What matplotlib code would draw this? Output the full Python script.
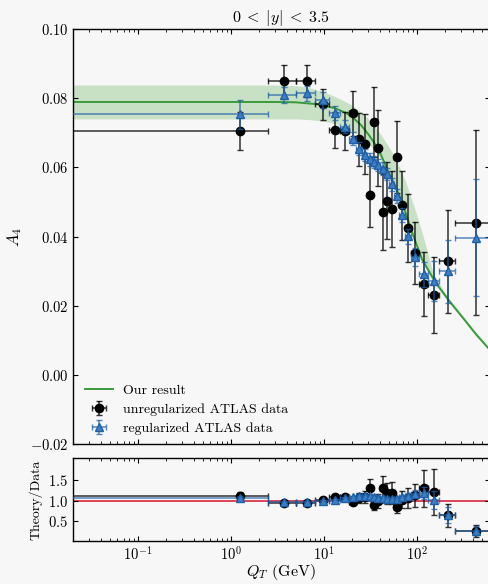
import numpy as np
import matplotlib
matplotlib.use("Agg")
import matplotlib.pyplot as plt
from matplotlib.ticker import FuncFormatter

plt.rcParams['font.family'] = 'serif'
plt.rcParams['font.serif'] = ['cmr10']
plt.rcParams['mathtext.fontset'] = 'cm'
plt.rcParams['axes.formatter.use_mathtext'] = True

# ---------------- data ----------------
bin_edges = [0.0, 2.5, 5.0, 8.0, 11.4, 14.9, 18.5, 22.0, 25.5, 29.0, 32.6, 36.4,
             40.4, 44.9, 50.2, 56.4, 63.9, 73.4, 85.4, 105.0, 132.0, 173.0, 253.0, 600.0]

a4_unreg = [0.0705, 0.0849, 0.0849, 0.0782, 0.0708, 0.0705, 0.0756, 0.0681, 0.0668,
            0.0521, 0.0731, 0.0655, 0.0472, 0.0504, 0.0479, 0.0630, 0.0490, 0.0424,
            0.0352, 0.0262, 0.0232, 0.0328, 0.0440]
a4_unreg_err = [0.0055, 0.0047, 0.0046, 0.0044, 0.0053, 0.0055, 0.0064, 0.0077, 0.0087,
                0.0094, 0.0102, 0.0110, 0.0110, 0.0110, 0.0110, 0.0104, 0.0100, 0.0098,
                0.0090, 0.0093, 0.0110, 0.0148, 0.0268]

a4_reg = [0.0753, 0.0809, 0.0814, 0.0795, 0.0758, 0.0717, 0.0683, 0.0654, 0.0636,
          0.0623, 0.0615, 0.0606, 0.0596, 0.0580, 0.0551, 0.0517, 0.0461, 0.0401,
          0.0341, 0.0291, 0.0271, 0.0299, 0.0397]
a4_reg_err = [0.0042, 0.0024, 0.0022, 0.0022, 0.0020, 0.0019, 0.0018, 0.0018, 0.0018,
              0.0018, 0.0018, 0.0018, 0.0018, 0.0018, 0.0019, 0.0019, 0.0020, 0.0022,
              0.0025, 0.0036, 0.0058, 0.0090, 0.0168]

ratio_unreg = [1.12, 0.94, 0.94, 1.01, 1.08, 1.08, 0.96, 1.07, 1.09, 1.30, 0.90, 0.99,
               1.30, 1.18, 1.18, 0.84, 1.02, 1.06, 1.13, 1.30, 1.20, 0.63, 0.24]
ratio_unreg_err = [0.087, 0.052, 0.051, 0.057, 0.081, 0.084, 0.081, 0.12, 0.14, 0.235,
                   0.126, 0.166, 0.30, 0.26, 0.27, 0.14, 0.21, 0.245, 0.29, 0.46, 0.57,
                   0.28, 0.15]
ratio_reg = [1.05, 0.97, 0.97, 0.99, 1.02, 1.07, 1.09, 1.11, 1.11, 1.11, 1.09, 1.07,
             1.06, 1.03, 1.03, 1.04, 1.08, 1.12, 1.17, 1.18, 1.02, 0.65, 0.25]
ratio_reg_err = [0.058, 0.03, 0.027, 0.028, 0.027, 0.028, 0.029, 0.031, 0.031, 0.032,
                 0.032, 0.032, 0.032, 0.032, 0.036, 0.038, 0.047, 0.061, 0.086, 0.15,
                 0.22, 0.20, 0.11]

qt_curve = [0.02, 1.0, 3.0, 5.0, 8.0, 10.0, 13.0, 17.0, 20.0, 25.0, 30.0, 35.0, 40.0,
            50.0, 60.0, 70.0, 88.0, 113.0, 158.0, 221.0, 308.0, 430.0, 620.0]
a4_curve = [0.0789, 0.0789, 0.0789, 0.0788, 0.0783, 0.0779, 0.0771, 0.0758, 0.0746,
            0.0722, 0.0695, 0.0669, 0.0642, 0.0582, 0.0538, 0.0494, 0.0413, 0.0334,
            0.0267, 0.0214, 0.0166, 0.0117, 0.0069]

qt_band = [0.02, 1.0, 3.0, 5.0, 7.0, 10.0, 13.0, 17.0, 20.0, 25.0, 30.0, 40.0, 50.0,
           60.0, 75.0, 95.0, 115.0, 150.0, 220.0, 620.0]
band_hi = [0.0838, 0.0838, 0.0838, 0.0836, 0.0830, 0.0818, 0.0805, 0.0790, 0.0779,
           0.0760, 0.0740, 0.0698, 0.0658, 0.0620, 0.0560, 0.0478, 0.0405, 0.0290,
           0.0220, 0.0071]
band_lo = [0.0740, 0.0740, 0.0740, 0.0740, 0.0738, 0.0733, 0.0727, 0.0715, 0.0705,
           0.0688, 0.0670, 0.0628, 0.0572, 0.0528, 0.0458, 0.0385, 0.0322, 0.0268,
           0.0208, 0.0067]

# ---------------- derived ----------------
edges = np.array(bin_edges)
centers = 0.5 * (edges[:-1] + edges[1:])
lo_edge = np.maximum(edges[:-1], 1e-3)
xerr = np.vstack([centers - lo_edge, edges[1:] - centers])

bg = '#f7f7f7'
green = '#3a9a3a'
blue = '#1f5fa6'
blue_face = '#3d7fc4'

fig = plt.figure(figsize=(4.88, 5.84), dpi=100, facecolor=bg)
ax = fig.add_axes([73/488, 1-444/584, (489.5-73)/488, (444-29)/584], facecolor=bg)
axr = fig.add_axes([73/488, 1-541/584, (489.5-73)/488, (541-458)/584], facecolor=bg,
                   sharex=ax)

ax.fill_between(qt_band, band_lo, band_hi, color='#a9d3a5', alpha=0.6, lw=0, zorder=1)
ax.plot(qt_curve, a4_curve, color=green, lw=1.4, zorder=2, label='Our result')

eb1 = ax.errorbar(centers, a4_unreg, yerr=a4_unreg_err, xerr=xerr, fmt='o', color='k',
                  ms=6, ecolor='k', elinewidth=1.1, capsize=2, capthick=1.0, zorder=3,
                  label='unregularized ATLAS data')
for c in eb1[1] + eb1[2]:
    c.set_alpha(0.8)
eb2 = ax.errorbar(centers, a4_reg, yerr=a4_reg_err, xerr=xerr, fmt='^', color=blue,
                  mfc=blue_face, mec=blue, ms=5.5, ecolor=blue, elinewidth=1.1, capsize=2,
                  capthick=1.0, zorder=4, label='regularized ATLAS data')
for c in eb2[1] + eb2[2]:
    c.set_alpha(0.75)

ax.set_xscale('log')
ax.set_xlim(0.02, 600)
ax.set_ylim(-0.02, 0.10)
ax.set_yticks([-0.02, 0.0, 0.02, 0.04, 0.06, 0.08, 0.10])
ax.yaxis.set_major_formatter(FuncFormatter(lambda v, p: '$%.2f$' % v))
ax.set_ylabel('$A_4$', fontsize=12)
ax.set_title(r'$0\;<\;|y|\;<\;3.5$', fontsize=11.5, pad=5)
ax.tick_params(axis='both', which='both', direction='in', top=True, right=True,
               labelsize=10.5)
ax.tick_params(labelbottom=False)
leg = ax.legend(loc='lower left', bbox_to_anchor=(0.008, 0.0), frameon=False,
                fontsize=10, handlelength=2.0, borderaxespad=0.25, labelspacing=0.45,
                handletextpad=0.7)

axr.axhline(1.0, color='#d7263d', lw=1.2, zorder=1)
eb3 = axr.errorbar(centers, ratio_unreg, yerr=ratio_unreg_err, xerr=xerr, fmt='o',
                   color='k', ms=6, ecolor='k', elinewidth=1.1, capsize=2, capthick=1.0,
                   zorder=3)
for c in eb3[1] + eb3[2]:
    c.set_alpha(0.8)
eb4 = axr.errorbar(centers, ratio_reg, yerr=ratio_reg_err, xerr=xerr, fmt='^',
                   color=blue, mfc=blue_face, mec=blue, ms=5.5, ecolor=blue,
                   elinewidth=1.1, capsize=2, capthick=1.0, zorder=4)
for c in eb4[1] + eb4[2]:
    c.set_alpha(0.75)
axr.set_ylim(0.0, 2.05)
axr.set_yticks([0.5, 1.0, 1.5])
axr.yaxis.set_major_formatter(FuncFormatter(lambda v, p: '$%.1f$' % v))
axr.set_ylabel('Theory/Data', fontsize=10)
axr.set_xlabel('$Q_T$ (GeV)', fontsize=11.5, labelpad=-1)
axr.tick_params(axis='both', which='both', direction='in', top=True, right=True,
                labelsize=10.5)
axr.set_xlim(0.02, 600)

for a in (ax, axr):
    for s in a.spines.values():
        s.set_linewidth(1.0)

fig.savefig('out.png', dpi=100, facecolor=bg)
